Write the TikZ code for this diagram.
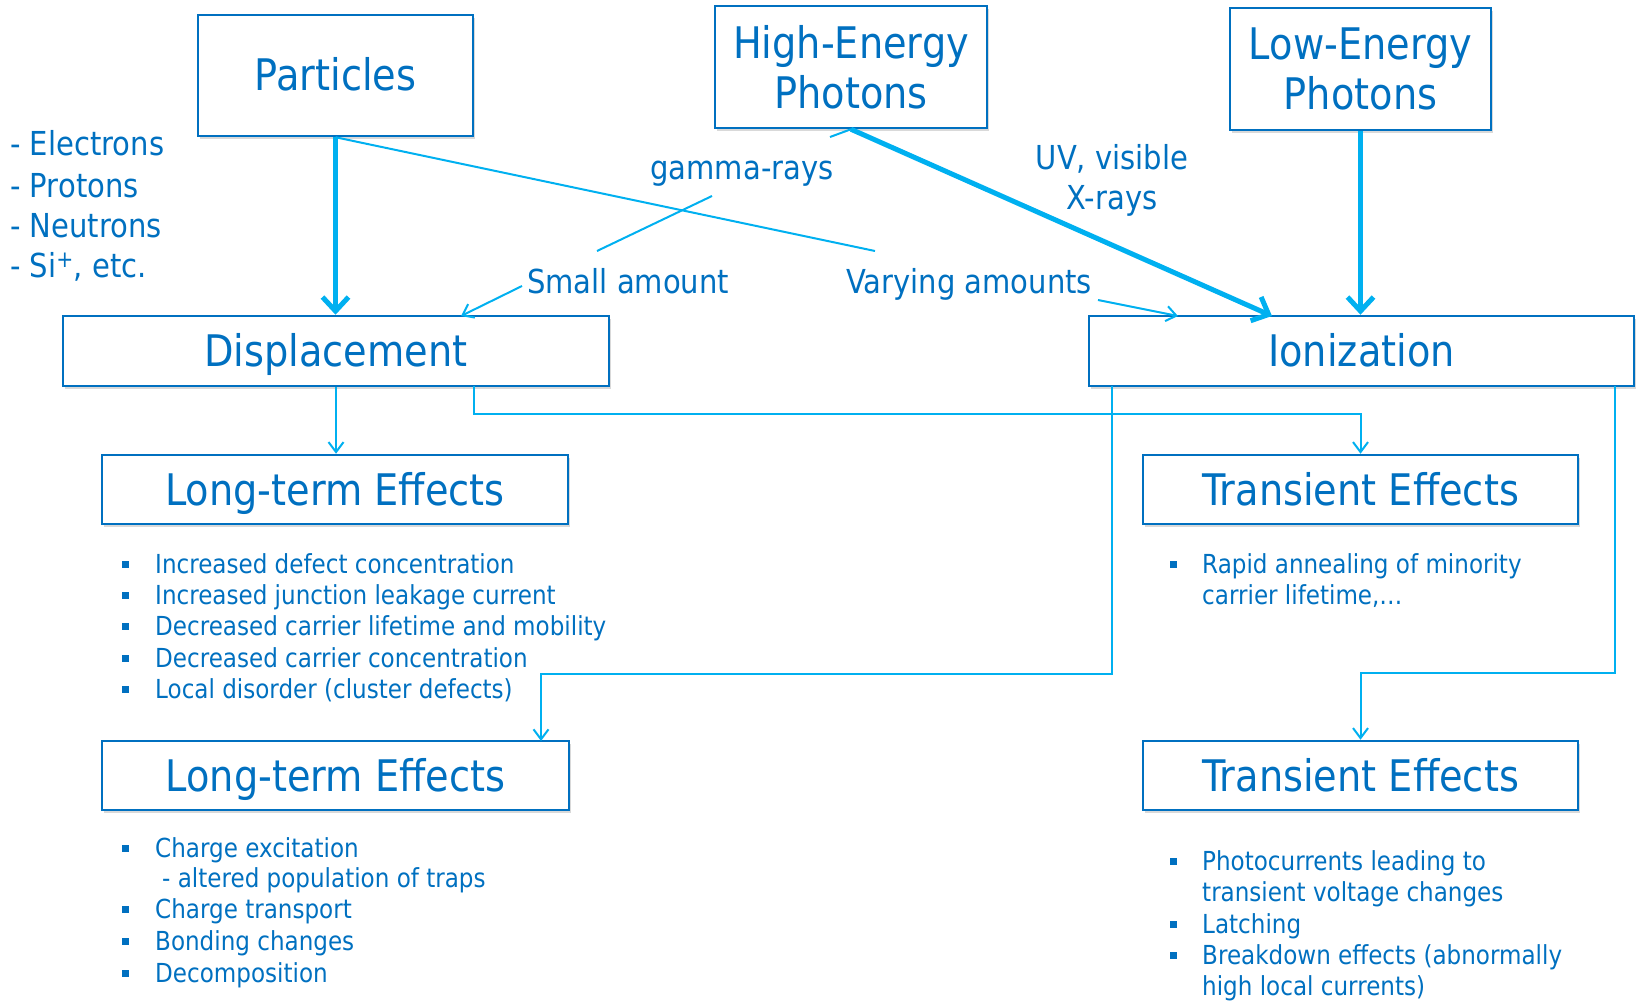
\documentclass[tikz,border=0pt]{standalone}
\usepackage{fontspec}
\setmainfont{DejaVu Sans}[FakeStretch=0.88]
\usetikzlibrary{arrows.meta,shadows,calc}
\definecolor{tblue}{RGB}{0,112,192}
\definecolor{lblue}{RGB}{0,176,240}
\newcommand\sqbul[2]{\fill[tblue] (#1-3.5,#2-3.5) rectangle ++(7,7);}
\begin{document}
\begin{tikzpicture}[x=1pt,y=-1pt,
  box/.style={draw=tblue, line width=2.5pt, fill=white, text=tblue, inner sep=0pt,
    font=\fontsize{43.5}{50}\selectfont,
    drop shadow={shadow xshift=2pt, shadow yshift=-3pt, opacity=0.3}},
  one/.style={text height=31pt, text depth=0pt},
  lbl/.style={text=tblue, inner sep=0pt, font=\fontsize{33}{40}\selectfont},
  itm/.style={text=tblue, inner sep=0pt, anchor=base west, font=\fontsize{26.2}{31.5}\selectfont},
  tarr/.style={draw=lblue, line width=5pt, -{Straight Barb[length=14pt,width=26pt]}},
  cl/.style={draw=lblue, line width=2pt},
  carr/.style={cl, -{Straight Barb[length=10pt,width=15pt]}}
]
\useasboundingbox (0,0) rectangle (1637,1003);

% boxes
\node[box, one, minimum width=275pt, minimum height=121pt] (P) at (335.5,75.5) {Particles};
\node[box, minimum width=272pt, minimum height=122pt, align=center] (HE) at (851,67) {High-Energy\\Photons};
\node[box, minimum width=261pt, minimum height=122pt, align=center] (LE) at (1360.5,69) {Low-Energy\\Photons};
\node[box, one, minimum width=546pt, minimum height=70pt] (D) at (336,351) {Displacement};
\node[box, one, minimum width=545pt, minimum height=70pt] (I) at (1361.5,351) {Ionization};
\node[box, one, minimum width=466pt, minimum height=69pt] (L1) at (335,489.5) {Long-term Effects};
\node[box, one, minimum width=435pt, minimum height=69pt] (T1) at (1360.5,489.5) {Transient Effects};
\node[box, one, minimum width=467pt, minimum height=69pt] (L2) at (335.5,775.5) {Long-term Effects};
\node[box, one, minimum width=435pt, minimum height=69pt] (T2) at (1360.5,775.5) {Transient Effects};

% coordinates
\coordinate (Ihe) at (1272,316);
\coordinate (pv) at (875,251);
\coordinate (va) at (1098,300);
\coordinate (vb) at (1178,316);
\coordinate (g1) at (830,137);
\coordinate (g2) at (712,196);
\coordinate (g3) at (597,251);
\coordinate (sa) at (522,286);
\coordinate (sb) at (461,316);
\coordinate (db) at (474,386);
\coordinate (ia) at (1112,386);
\coordinate (lt) at (541,741);
\coordinate (ib) at (1615,386);

% connectors
\draw[tarr] (P.south) -- (P.south |- D.north);
\draw[tarr] (LE.south) -- (LE.south |- I.north);
\draw[tarr] (HE.south) -- (Ihe);
\draw[cl] (P.south) -- (pv);
\draw[carr] (va) -- (vb);
\draw[cl] (HE.south) -- (g1);
\draw[cl] (g2) -- (g3);
\draw[carr] (sa) -- (sb);
\draw[carr] (D.south) -- (D.south |- L1.north);
\draw[carr] (db) |- ($(T1.north)+(0,-40)$) -- (T1.north);
\draw[carr] (ia) |- ($(lt)+(0,-67)$) -- (lt);
\draw[carr] (ib) |- ($(T2.north)+(0,-67)$) -- (T2.north);

% labels
\node[lbl, anchor=base] (gam) at (742,180) {gamma-rays};
\node[lbl, anchor=base] (uv1) at (1112,170) {UV, visible};
\node[lbl, anchor=base] (uv2) at (1112,209) {X-rays};
\node[lbl, anchor=base west] (sm) at (527,293) {Small amount};
\node[lbl, anchor=base west] (vy) at (846,293) {Varying amounts};

% particle list
\node[lbl, anchor=base west] (e1) at (10,156) {- Electrons};
\node[lbl, anchor=base west] (e2) at (10,197) {- Protons};
\node[lbl, anchor=base west] (e3) at (10,237) {- Neutrons};
\node[lbl, anchor=base west] (e4) at (10,277) {- Si\textsuperscript{+}, etc.};

% Long-term 1 list
\sqbul{125}{564}\sqbul{125}{595}\sqbul{125}{626}\sqbul{125}{658}\sqbul{125}{689}
\node[itm] (a1) at (155,573) {Increased defect concentration};
\node[itm] (a2) at (155,604) {Increased junction leakage current};
\node[itm] (a3) at (155,635) {Decreased carrier lifetime and mobility};
\node[itm] (a4) at (155,667) {Decreased carrier concentration};
\node[itm] (a5) at (155,698) {Local disorder (cluster defects)};

% Transient 1 list
\sqbul{1173}{564}
\node[itm] (b1) at (1202,573) {Rapid annealing of minority};
\node[itm] (b2) at (1202,604) {carrier lifetime,…};

% Long-term 2 list
\sqbul{125}{848}\sqbul{125}{909}\sqbul{125}{941}\sqbul{125}{973}
\node[itm] (c1) at (155,857) {Charge excitation};
\node[itm] (c2) at (162,887) {- altered population of traps};
\node[itm] (c3) at (155,918) {Charge transport};
\node[itm] (c4) at (155,950) {Bonding changes};
\node[itm] (c5) at (155,982) {Decomposition};

% Transient 2 list
\sqbul{1173}{861}\sqbul{1173}{924}\sqbul{1173}{955}
\node[itm] (d1) at (1202,870) {Photocurrents leading to};
\node[itm] (d2) at (1202,901) {transient voltage changes};
\node[itm] (d3) at (1202,933) {Latching};
\node[itm] (d4) at (1202,964) {Breakdown effects (abnormally};
\node[itm] (d5) at (1202,995) {high local currents)};
\end{tikzpicture}
\end{document}
